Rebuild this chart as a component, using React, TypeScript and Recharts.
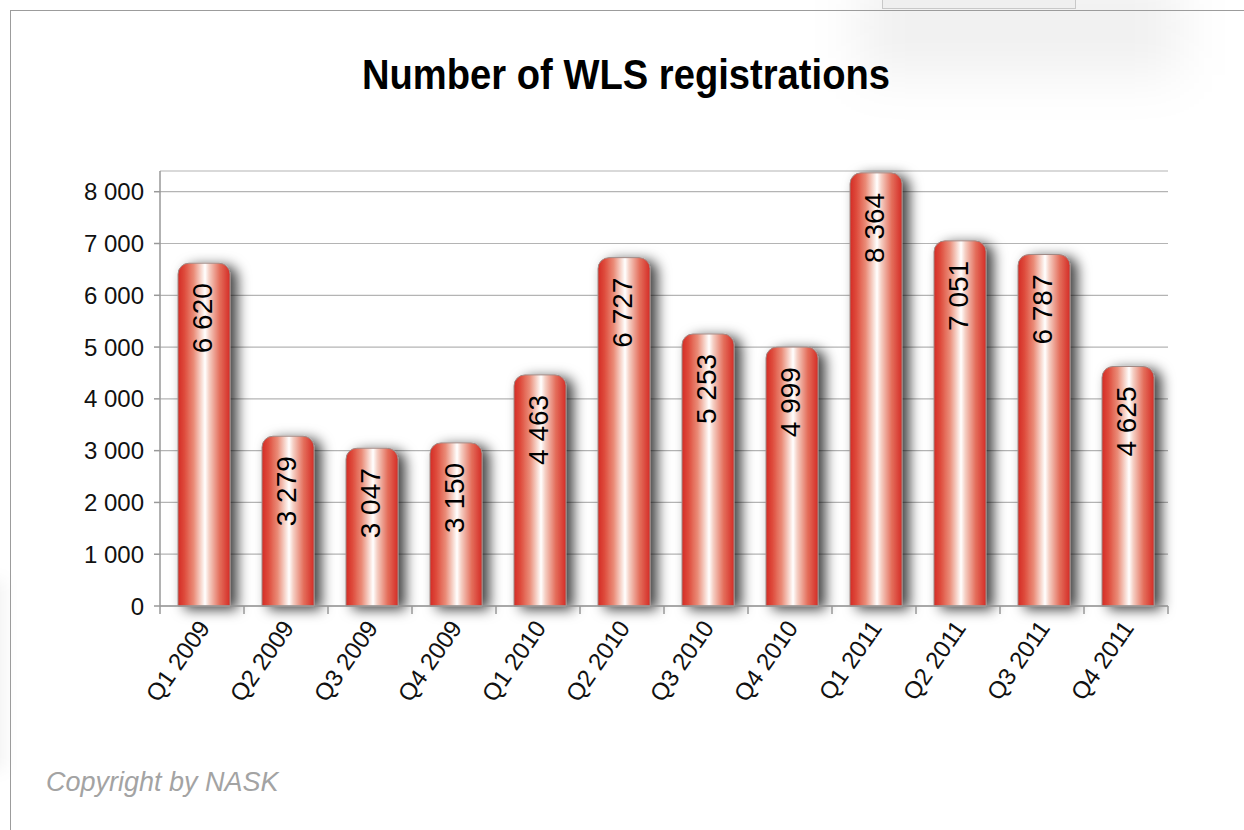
import { BarChart, Bar, XAxis, YAxis, CartesianGrid, LabelList, Rectangle } from 'recharts';

const quarters = ['Q1 2009', 'Q2 2009', 'Q3 2009', 'Q4 2009', 'Q1 2010', 'Q2 2010', 'Q3 2010', 'Q4 2010', 'Q1 2011', 'Q2 2011', 'Q3 2011', 'Q4 2011'];
const registrations = [6620, 3279, 3047, 3150, 4463, 6727, 5253, 4999, 8364, 7051, 6787, 4625];
const yTicks = [0, 1000, 2000, 3000, 4000, 5000, 6000, 7000, 8000];

const data = quarters.map((q, i) => ({ quarter: q, value: registrations[i] }));

const W = 1244;
const H = 830;
const MARGIN = { top: 171, right: 76, bottom: 114, left: 60 };
const Y_WIDTH = 100;
const BAND = (W - MARGIN.left - Y_WIDTH - MARGIN.right) / quarters.length;
const FONT = "'Liberation Sans', Arial, Helvetica, sans-serif";

// thousands with a space, like "6 620"
const fmt = (v: number) => String(v).replace(/\B(?=(\d{3})+(?!\d))/g, ' ');

const XTick = (props: any) => {
    const { x, y, payload, index } = props;
    const isLast = index === quarters.length - 1;
    return (
        <g>
            <line x1={x - BAND / 2} x2={x - BAND / 2} y1={y} y2={y + 8} stroke="#999" strokeWidth={1.5} />
            {isLast && <line x1={x + BAND / 2} x2={x + BAND / 2} y1={y} y2={y + 8} stroke="#999" strokeWidth={1.5} />}
            <text
                x={x + 9}
                y={y + 22}
                transform={`rotate(-55, ${x + 9}, ${y + 22})`}
                textAnchor="end"
                fontSize={24}
                fontFamily={FONT}
                fill="#111"
            >
                {payload.value}
            </text>
        </g>
    );
};

const BarLabel = (props: any) => {
    const { x, y, width, value } = props;
    const cx = x + width / 2;
    const ty = y + 20;
    return (
        <text
            x={cx}
            y={ty}
            dy="0.36em"
            transform={`rotate(-90, ${cx}, ${ty})`}
            textAnchor="end"
            fontSize={28}
            fontFamily={FONT}
            fill="#000"
        >
            {fmt(value)}
        </text>
    );
};

const CylinderBar = (props: any) => (
    <Rectangle {...props} x={props.x + 2} radius={[11, 11, 0, 0]} fill="url(#cylFill)" stroke="#a08a86" strokeWidth={1} filter="url(#barShadow)" />
);

export default function App() {
    return (
        <div style={{ position: 'absolute', left: 0, top: 0, width: W, height: H, background: '#fff', overflow: 'hidden' }}>
            {/* page frame + soft shadow artifacts of the original scan */}
            <div style={{ position: 'absolute', left: 860, top: -20, width: 320, height: 95, background: 'rgba(0,0,0,0.06)', filter: 'blur(26px)' }} />
            <div style={{ position: 'absolute', left: 882, top: -3, width: 192, height: 10, border: '1px solid #c8c8c8', background: '#efefef' }} />
            <div style={{ position: 'absolute', left: -20, top: 580, width: 24, height: 190, background: 'rgba(0,0,0,0.05)', filter: 'blur(8px)' }} />
            <div style={{ position: 'absolute', left: 10, top: 10, width: 1400, height: 1000, borderLeft: '1.5px solid #9c9c9c', borderTop: '1.5px solid #9c9c9c' }} />

            <svg width={W} height={H} style={{ position: 'absolute', left: 0, top: 0 }}>
                <text
                    x={626}
                    y={89}
                    textAnchor="middle"
                    fontSize={42}
                    fontWeight="bold"
                    fontFamily="'Liberation Sans Narrow', 'Liberation Sans', Arial, sans-serif"
                    textLength={528}
                    lengthAdjust="spacingAndGlyphs"
                    fill="#000"
                >
                    Number of WLS registrations
                </text>
                <text x={46} y={791} fontSize={27} fontStyle="italic" fontFamily={FONT} fill="#a3a3a3">
                    Copyright by NASK
                </text>
            </svg>

            <BarChart width={W} height={H} data={data} margin={MARGIN} style={{ position: 'absolute', left: 0, top: 0 }}>
                <defs>
                    <linearGradient id="cylFill" x1="0" y1="0" x2="1" y2="0">
                        <stop offset="0%" stopColor="#d42c25" />
                        <stop offset="12%" stopColor="#de4a3b" />
                        <stop offset="30%" stopColor="#ea8b77" />
                        <stop offset="45%" stopColor="#f8dbd2" />
                        <stop offset="52%" stopColor="#ffffff" />
                        <stop offset="60%" stopColor="#f5cfc4" />
                        <stop offset="80%" stopColor="#e46f5c" />
                        <stop offset="100%" stopColor="#d42c25" />
                    </linearGradient>
                    <filter id="barShadow" x="-50%" y="-10%" width="220%" height="130%">
                        <feDropShadow dx={7} dy={3} stdDeviation={6.5} floodColor="#000" floodOpacity={0.75} />
                    </filter>
                </defs>
                <CartesianGrid vertical={false} stroke="#b4b4b4" strokeWidth={1.2} />
                <XAxis
                    dataKey="quarter"
                    height={110}
                    interval={0}
                    tickLine={false}
                    tickSize={0}
                    tickMargin={0}
                    axisLine={{ stroke: '#999', strokeWidth: 1.5 }}
                    tick={<XTick />}
                />
                <YAxis
                    width={Y_WIDTH}
                    domain={[0, 8400]}
                    ticks={yTicks}
                    tickFormatter={fmt}
                    tickSize={6}
                    tickMargin={10}
                    axisLine={{ stroke: '#999', strokeWidth: 1.5 }}
                    tickLine={{ stroke: '#999', strokeWidth: 1.5 }}
                    tick={{ fontSize: 24, fill: '#111', fontFamily: FONT }}
                />
                <Bar dataKey="value" barSize={52} shape={<CylinderBar />} isAnimationActive={false}>
                    <LabelList dataKey="value" content={<BarLabel />} />
                </Bar>
            </BarChart>
        </div>
    );
}
